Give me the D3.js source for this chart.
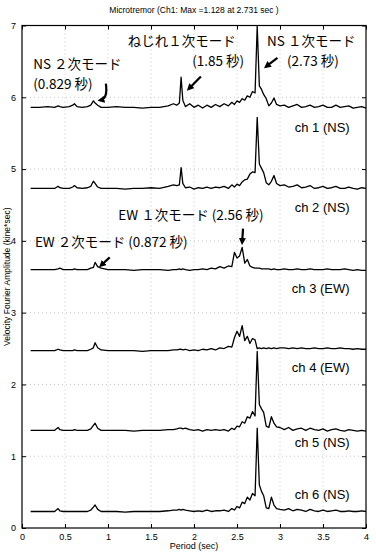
<!DOCTYPE html>
<html>
<head>
<meta charset="utf-8">
<script src="https://cdn.jsdelivr.net/npm/d3@7"></script>
<style>
  body { margin: 0; background: #fff; }
  svg { display: block; }
  text { font-family: "Liberation Sans", Arial, sans-serif; }
  .jp { font-family: "Noto Sans CJK JP", "Noto Sans", sans-serif; }
</style>
</head>
<body>
<div id="chart"></div>
<script>
// period grid shared by every channel (sec)
const periods = [
  0.10,0.20,0.30,0.38,0.42,0.44,0.48,0.55,0.59,0.61,
  0.64,0.70,0.76,0.80,0.83,0.85,0.88,0.92,1.00,1.10,
  1.20,1.30,1.40,1.50,1.60,1.70,1.76,1.80,1.83,1.85,
  1.87,1.90,1.95,2.00,2.05,2.10,2.15,2.20,2.25,2.30,
  2.35,2.40,2.44,2.47,2.50,2.53,2.56,2.59,2.62,2.65,
  2.68,2.71,2.735,2.76,2.785,2.81,2.84,2.87,2.90,2.93,
  2.96,3.00,3.05,3.10,3.15,3.20,3.25,3.30,3.35,3.40,
  3.45,3.50,3.55,3.60,3.65,3.70,3.75,3.80,3.85,3.90,
  3.95,4.00];

// amplitude above each channel's offset (kine*sec)
const ch1 = [
  0.00,0.00,0.01,0.00,0.02,0.01,0.00,0.01,0.03,0.05,
  0.01,0.00,0.01,0.03,0.09,0.06,0.03,0.00,0.00,0.01,
  0.00,0.00,-0.01,0.00,0.00,0.02,0.05,0.03,0.06,0.42,
  0.10,0.01,0.05,0.00,0.03,-0.01,0.03,0.00,0.04,0.01,
  0.05,0.02,0.07,0.04,0.09,0.07,0.12,0.10,0.16,0.14,
  0.22,0.20,1.13,0.30,0.25,0.18,0.12,0.02,0.06,0.13,
  0.04,0.02,0.03,0.00,0.02,0.04,0.00,0.01,0.03,0.00,
  0.01,0.03,0.00,0.00,0.03,0.00,0.01,0.02,-0.01,0.00,
  0.01,-0.01];
const ch2 = [
  0.00,0.00,0.00,0.00,0.03,0.01,0.00,0.00,0.02,0.04,
  0.01,0.00,0.01,0.03,0.10,0.07,0.02,0.00,0.00,0.00,
  -0.01,0.00,0.00,0.01,0.00,0.03,0.05,0.04,0.05,0.29,
  0.07,0.01,0.02,-0.01,0.01,0.00,0.02,0.00,0.02,0.01,
  0.03,0.00,0.05,0.02,0.06,0.04,0.09,0.12,0.13,0.20,
  0.23,0.22,0.99,0.34,0.28,0.22,0.08,0.05,0.10,0.18,
  0.07,0.04,0.05,0.02,0.03,0.05,0.01,0.02,0.04,0.00,
  0.01,0.03,0.00,0.01,0.03,0.00,0.00,0.02,0.00,-0.01,
  0.01,0.00];
const ch3 = [
  0.00,0.00,0.00,0.00,0.01,0.02,0.00,0.00,0.00,0.01,
  0.00,0.00,0.00,0.02,0.03,0.10,0.04,0.02,0.00,0.00,
  0.00,-0.01,0.00,0.00,0.00,-0.01,0.00,0.00,0.01,0.00,
  0.01,0.00,-0.01,0.00,0.00,0.01,0.00,0.02,0.01,0.04,
  0.02,0.05,0.04,0.24,0.16,0.19,0.31,0.09,0.14,0.05,
  0.03,0.02,0.02,0.02,0.01,0.01,0.01,0.01,0.00,0.01,
  0.00,0.00,0.01,0.00,0.00,0.01,0.00,0.00,0.01,0.00,
  0.00,0.00,0.01,0.00,0.00,0.00,0.01,0.00,-0.01,0.00,
  -0.01,-0.01];
const ch4 = [
  0.00,0.00,0.00,0.00,0.02,0.01,0.00,0.00,0.00,0.01,
  0.00,0.00,0.00,0.02,0.04,0.11,0.04,0.01,0.00,0.00,
  0.00,0.00,-0.01,0.00,0.00,0.00,0.01,0.01,0.02,0.02,
  0.01,0.02,0.00,0.01,0.00,0.02,0.01,0.03,0.01,0.04,
  0.03,0.06,0.05,0.18,0.27,0.20,0.35,0.14,0.20,0.10,
  0.17,0.15,0.03,0.04,0.03,0.04,0.03,0.04,0.03,0.04,
  0.03,0.04,0.04,0.03,0.04,0.03,0.04,0.03,0.03,0.04,
  0.03,0.03,0.04,0.03,0.03,0.04,0.03,0.03,0.02,0.03,
  0.02,0.02];
const ch5 = [
  0.00,0.00,0.00,0.00,0.04,0.01,0.00,0.00,0.00,0.01,
  0.00,0.00,0.00,0.02,0.07,0.10,0.03,0.00,0.00,0.00,
  0.00,-0.01,0.00,0.00,0.00,0.01,0.01,0.02,0.03,0.03,
  0.02,0.03,0.01,0.00,0.01,-0.01,0.01,0.00,0.01,0.00,
  0.01,-0.01,0.03,0.01,0.06,0.05,0.12,0.10,0.19,0.17,
  0.26,0.20,1.10,0.36,0.30,0.25,0.06,0.04,0.19,0.10,
  0.05,0.04,0.01,0.04,0.00,0.02,0.03,0.00,0.03,0.01,
  0.00,0.02,-0.01,0.01,0.02,0.00,-0.01,0.01,0.00,-0.01,
  0.00,-0.01];
const ch6 = [
  0.00,0.00,0.00,0.00,0.04,0.01,0.00,0.00,0.00,0.00,
  0.00,0.00,0.00,0.02,0.06,0.09,0.03,0.00,0.00,0.00,
  -0.01,0.00,0.00,0.00,0.00,0.01,0.02,0.02,0.03,0.02,
  0.03,0.02,0.01,0.00,0.01,0.00,0.02,0.00,0.01,0.01,
  0.02,0.00,0.04,0.02,0.07,0.05,0.13,0.11,0.20,0.16,
  0.25,0.22,1.16,0.37,0.28,0.22,0.05,0.04,0.20,0.09,
  0.04,0.03,0.02,0.04,0.01,0.03,0.02,0.00,0.03,0.01,
  0.00,0.02,0.00,0.01,0.02,0.00,0.00,0.01,0.00,0.00,
  0.01,0.00];

const channels = [ch1, ch2, ch3, ch4, ch5, ch6];
const offsets = [5.86, 4.73, 3.60, 2.47, 1.36, 0.23];
const chNames = ["ch 1 (NS)", "ch 2 (NS)", "ch 3 (EW)", "ch 4 (EW)", "ch 5 (NS)", "ch 6 (NS)"];
const chNameLevel = [5.58, 4.46, 3.34, 2.24, 1.19, 0.47];

const xTicks = [0, 0.5, 1, 1.5, 2, 2.5, 3, 3.5, 4];
const yTicks = [0, 1, 2, 3, 4, 5, 6, 7];

// mode notes: [text, period, level]
const notes = [
  ["ねじれ１次モード", 1.23, 6.72],
  ["(1.85 秒)", 1.98, 6.43],
  ["NS １次モード", 2.85, 6.72],
  ["(2.73 秒)", 3.08, 6.44],
  ["NS ２次モード", 0.13, 6.40],
  ["(0.829 秒)", 0.13, 6.12],
  ["EW １次モード (2.56 秒)", 1.12, 4.29],
  ["EW ２次モード (0.872 秒)", 0.15, 3.91]
];
// arrows: [fromPeriod, fromLevel, toPeriod, toLevel]
const arrows = [
  [2.08, 6.29, 1.94, 6.12],
  [2.97, 6.55, 2.84, 6.43],
  [2.57, 4.17, 2.56, 3.98],
  [1.02, 3.77, 0.92, 3.66]
];

var margin = {top: 25.5, right: 10, bottom: 29, left: 22},
    width = 376 - margin.left - margin.right,
    height = 557 - margin.top - margin.bottom;

var svg = d3.select("#chart").append("svg")
    .attr("width", 376).attr("height", 557);

var defs = svg.append("defs");
defs.append("marker")
    .attr("id", "head")
    .attr("viewBox", "0 0 10 10")
    .attr("refX", 6).attr("refY", 5)
    .attr("markerWidth", 3.2).attr("markerHeight", 3.2)
    .attr("orient", "auto")
  .append("path")
    .attr("d", "M0,0 L10,5 L0,10 Z")
    .attr("fill", "#000");

var g = svg.append("g")
    .attr("transform", "translate(" + margin.left + "," + margin.top + ")");

var x = d3.scaleLinear().domain([0, 4]).range([0, width]);
var y = d3.scaleLinear().domain([0, 7]).range([height, 0]);

// dotted grid
g.append("g").selectAll("line").data(xTicks.slice(1, -1)).enter().append("line")
    .attr("x1", d => x(d)).attr("x2", d => x(d))
    .attr("y1", 0).attr("y2", height)
    .attr("stroke", "#b8b8b8").attr("stroke-width", 0.8)
    .attr("stroke-dasharray", "1,3");
g.append("g").selectAll("line").data(yTicks.slice(1, -1)).enter().append("line")
    .attr("y1", d => y(d)).attr("y2", d => y(d))
    .attr("x1", 0).attr("x2", width)
    .attr("stroke", "#b8b8b8").attr("stroke-width", 0.8)
    .attr("stroke-dasharray", "1,3");

// axes with inward ticks on all sides
var fmt = d => String(d);
var ax = [
  [d3.axisBottom(x).tickValues(xTicks).tickFormat(fmt), "translate(0," + height + ")", true],
  [d3.axisTop(x).tickValues(xTicks).tickFormat(""), null, false],
  [d3.axisLeft(y).tickValues(yTicks).tickFormat(fmt), null, true],
  [d3.axisRight(y).tickValues(yTicks).tickFormat(""), "translate(" + width + ",0)", false]
];
ax.forEach(function(a) {
  var ag = g.append("g").call(a[0].tickSizeInner(-4).tickSizeOuter(0).tickPadding(6));
  if (a[1]) ag.attr("transform", a[1]);
  ag.select(".domain").remove();
  ag.selectAll("line").attr("stroke", "#000").attr("stroke-width", 1);
  ag.selectAll("text").style("font-size", "9px").attr("fill", "#000");
});

g.append("rect")
    .attr("width", width).attr("height", height)
    .attr("fill", "none").attr("stroke", "#000").attr("stroke-width", 1.2);

// traces
var line = d3.line()
    .x((d, i) => x(periods[i]))
    .y(d => y(d));

channels.forEach(function(amp, k) {
  g.append("path")
    .datum(amp.map(v => v + offsets[k]))
    .attr("d", line)
    .attr("fill", "none")
    .attr("stroke", "#000")
    .attr("stroke-width", 1.3)
    .attr("stroke-linejoin", "round");
  g.append("text")
    .attr("x", x(3.81)).attr("y", y(chNameLevel[k]) + 4.5)
    .attr("text-anchor", "end")
    .style("font-size", "13px")
    .text(chNames[k]);
});

// notes and arrows
g.selectAll(".note").data(notes).enter().append("text")
    .attr("class", "note jp")
    .attr("x", d => x(d[1])).attr("y", d => y(d[2]))
    .style("font-size", "13.5px")
    .text(d => d[0]);

g.selectAll(".arrow").data(arrows).enter().append("line")
    .attr("x1", d => x(d[0])).attr("y1", d => y(d[1]))
    .attr("x2", d => x(d[2])).attr("y2", d => y(d[3]))
    .attr("stroke", "#000").attr("stroke-width", 2.2)
    .attr("marker-end", "url(#head)");

// the hooked arrow for NS 2nd mode
g.append("path")
    .attr("d", "M" + x(0.975) + "," + y(6.19) + " Q" + x(1.0) + "," + y(5.98) + " " + x(0.91) + "," + y(5.96))
    .attr("fill", "none").attr("stroke", "#000").attr("stroke-width", 2.2)
    .attr("marker-end", "url(#head)");

// titles
svg.append("text")
    .attr("x", margin.left + width / 2).attr("y", 13)
    .attr("text-anchor", "middle")
    .style("font-size", "8.5px")
    .text("Microtremor (Ch1: Max =1.128 at 2.731 sec )");
svg.append("text")
    .attr("x", margin.left + width / 2).attr("y", 549)
    .attr("text-anchor", "middle")
    .style("font-size", "9px")
    .text("Period (sec)");
svg.append("text")
    .attr("transform", "translate(10," + (margin.top + height / 2) + ") rotate(-90)")
    .attr("text-anchor", "middle")
    .style("font-size", "8.5px")
    .text("Velocity Fourier Amplitude (kine*sec)");
</script>
</body>
</html>
